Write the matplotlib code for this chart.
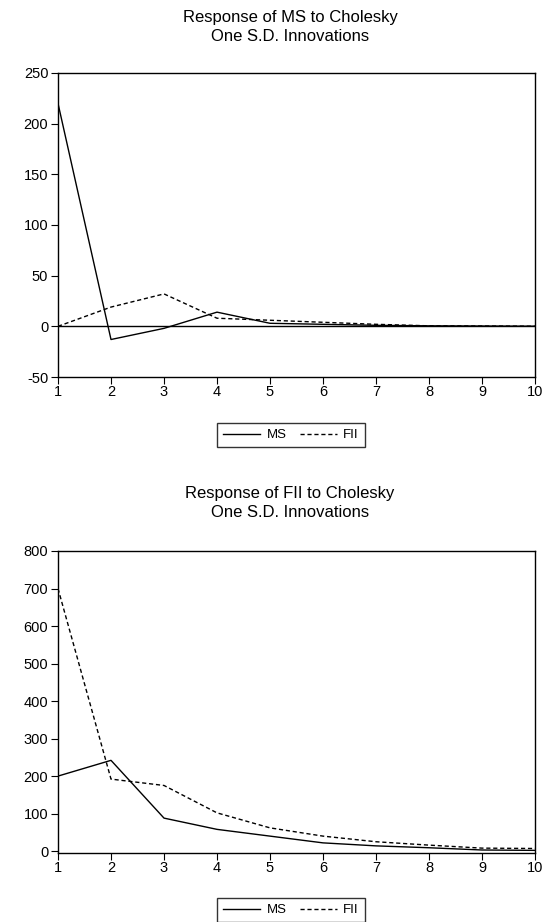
import numpy as np
import matplotlib
matplotlib.use("Agg")
import matplotlib.pyplot as plt

plt.rcParams["font.family"] = ["Liberation Sans", "DejaVu Sans"]
plt.rcParams["axes.unicode_minus"] = False

periods = [1, 2, 3, 4, 5, 6, 7, 8, 9, 10]
# response of MS
ms_to_ms = [220, -13, -2, 14, 3, 2, 1, 0.5, 0.3, 0.1]
ms_to_fii = [0, 19, 32, 8, 6, 4, 2, 0.5, 0.3, 0.1]
# response of FII
fii_to_ms = [200, 242, 88, 58, 40, 22, 14, 9, 3, 2]
fii_to_fii = [700, 192, 175, 102, 62, 40, 25, 16, 8, 7]

W, H = 545, 922
fig = plt.figure(figsize=(W / 100, H / 100), dpi=100)


def fx(px):
    return px / W


def fy(py):
    return 1 - py / H


def panel(top, bot, ylim, yticks, ms, fii, title, title_y, leg_y, zero_line):
    ax = fig.add_axes([fx(58), fy(bot), fx(535 - 58), (bot - top) / H])
    if zero_line:
        ax.axhline(0, color="black", lw=1.0)
    l1, = ax.plot(periods, ms, color="black", lw=1.0, label="MS")
    l2, = ax.plot(periods, fii, color="black", lw=1.0, ls=(0, (3, 2)), label="FII")
    ax.set_xlim(1, 10)
    ax.set_ylim(*ylim)
    ax.set_xticks(periods)
    ax.set_yticks(yticks)
    ax.tick_params(direction="out", length=5, width=0.8, labelsize=10.5, pad=2)
    ax.tick_params(axis="x", pad=1)
    for s in ax.spines.values():
        s.set_linewidth(1.0)
    fig.text(fx(290), fy(title_y), title, ha="center", va="center",
             fontsize=12, linespacing=1.35)
    fig.legend([l1, l2], ["MS", "FII"], loc="center",
               bbox_to_anchor=(fx(291), fy(leg_y)), ncol=2, fontsize=9.5,
               frameon=True, fancybox=False, edgecolor="black",
               handlelength=2.8, columnspacing=1.0, handletextpad=0.5,
               borderpad=0.45)
    return ax


panel(73, 377, (-50, 250), [-50, 0, 50, 100, 150, 200, 250],
      ms_to_ms, ms_to_fii,
      "Response of MS to Cholesky\nOne S.D. Innovations", 27, 435, True)
panel(551, 853, (-5, 800), [0, 100, 200, 300, 400, 500, 600, 700, 800],
      fii_to_ms, fii_to_fii,
      "Response of FII to Cholesky\nOne S.D. Innovations", 503, 910, False)

fig.savefig("out.png", dpi=100)
